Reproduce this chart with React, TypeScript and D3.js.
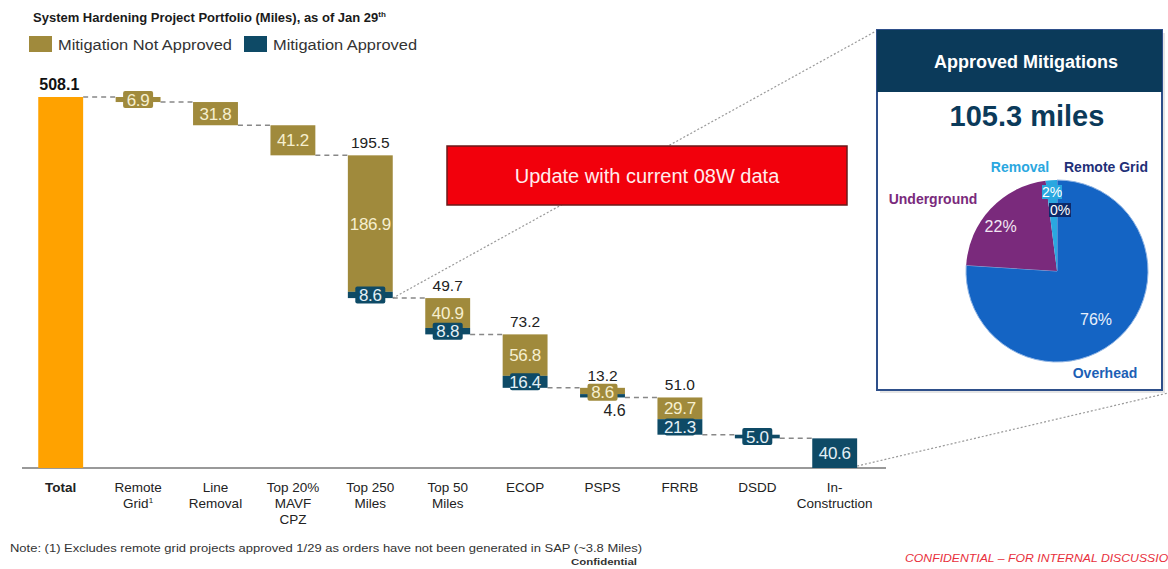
import React from 'react';
import * as d3 from 'd3';

const categories = ['Total', 'Remote Grid', 'Line Removal', 'Top 20% MAVF CPZ', 'Top 250 Miles', 'Top 50 Miles', 'ECOP', 'PSPS', 'FRRB', 'DSDD', 'In-Construction'];
const tickLines = [['Total'], ['Remote', 'Grid'], ['Line', 'Removal'], ['Top 20%', 'MAVF', 'CPZ'], ['Top 250', 'Miles'], ['Top 50', 'Miles'], ['ECOP'], ['PSPS'], ['FRRB'], ['DSDD'], ['In-', 'Construction']];
const totalMiles = 508.1;
const notApproved = [0, 6.9, 31.8, 41.2, 186.9, 40.9, 56.8, 8.6, 29.7, 0, 0];
const approved = [0, 0, 0, 0, 8.6, 8.8, 16.4, 4.6, 21.3, 5.0, 40.6];
const stepTotals = ['', '', '', '', '195.5', '49.7', '73.2', '13.2', '51.0', '', ''];

const pieNames = ['Overhead', 'Underground', 'Removal', 'Remote Grid'];
const pieValues = [76, 22, 2, 0];
const pieColors = ['#1464c4', '#7a2a7c', '#2aa7e0', '#0d2a6a'];

const GOLD = '#a08a3c';
const TEAL = '#0e4a66';
const ORANGE = '#ffa200';

const W = 1168;
const H = 569;

type Seg = { i: number; y0: number; y1: number; v: number; color: string; text: string };

const App = () => {
  const x = d3.scaleBand<string>().domain(categories).range([22, 22 + 77.4 * 11]).paddingInner(0.42).paddingOuter(0.21);
  const y = d3.scaleLinear().domain([0, totalMiles]).range([468, 97]);
  const bw = x.bandwidth();

  // waterfall segments
  const segs: Seg[] = [];
  const levels: number[] = [totalMiles];
  let running = totalMiles;
  for (let i = 1; i < categories.length; i++) {
    const top = running;
    if (notApproved[i] > 0) {
      segs.push({ i, y0: top, y1: top - notApproved[i], v: notApproved[i], color: GOLD, text: notApproved[i].toFixed(1) });
    }
    if (approved[i] > 0) {
      segs.push({ i, y0: top - notApproved[i], y1: top - notApproved[i] - approved[i], v: approved[i], color: TEAL, text: approved[i].toFixed(1) });
    }
    running = top - notApproved[i] - approved[i];
    levels.push(running);
  }

  const cx = (i: number) => (x(categories[i]) as number) + bw / 2;

  const pie = d3.pie<number>().sort(null).value((d) => d)(pieValues);
  const R = 91;
  const pcx = 1057;
  const pcy = 271;
  const arc = d3.arc<d3.PieArcDatum<number>>().innerRadius(0).outerRadius(R);
  const labelArc = d3.arc<d3.PieArcDatum<number>>().innerRadius(R * 0.82).outerRadius(R * 0.82);

  return (
    <svg width={W} height={H} style={{ position: 'absolute', left: 0, top: 0, background: '#fff' }} fontFamily="'Liberation Sans', Arial, sans-serif">
      {/* title + legend */}
      <text x={33} y={22} fontSize={13} fontWeight="bold" fill="#1a1a1a">
        System Hardening Project Portfolio (Miles), as of Jan 29<tspan fontSize={8} dy={-5}>th</tspan>
      </text>
      <rect x={29} y={36} width={23} height={16} fill={GOLD} />
      <text x={58} y={50} fontSize={15.5} fill="#333" textLength={174} lengthAdjust="spacingAndGlyphs">Mitigation Not Approved</text>
      <rect x={244} y={36} width={23} height={16} fill={TEAL} />
      <text x={273} y={50} fontSize={15.5} fill="#333" textLength={144} lengthAdjust="spacingAndGlyphs">Mitigation Approved</text>

      {/* connectors to panel */}
      <line x1={cx(4) + bw / 2} y1={y(levels[4])} x2={878} y2={30} stroke="#999" strokeWidth={1.2} strokeDasharray="2,2" />
      <line x1={cx(10) + bw / 2} y1={466} x2={1168} y2={393} stroke="#999" strokeWidth={1.2} strokeDasharray="2,2" />

      {/* axis baseline */}
      <line x1={22} x2={886} y1={468} y2={468} stroke="#999" strokeWidth={2} />

      {/* dashed step connectors */}
      {levels.slice(0, -1).map((lv, k) => (
        <line key={'c' + k} x1={cx(k) + bw / 2} x2={cx(k + 1) - bw / 2} y1={y(lv)} y2={y(lv)} stroke="#888" strokeWidth={1.5} strokeDasharray="5,4" />
      ))}

      {/* total bar */}
      <rect x={x(categories[0])} y={y(totalMiles)} width={bw} height={y(0) - y(totalMiles)} fill={ORANGE} />
      <text x={(x(categories[0]) as number) + 1} y={y(totalMiles) - 7} fontSize={16} fontWeight="bold" fill="#111">{totalMiles.toFixed(1)}</text>

      {/* segments */}
      {segs.map((s, k) => (
        <rect key={'s' + k} x={x(categories[s.i])} y={y(s.y0)} width={bw} height={y(s.y1) - y(s.y0)} fill={s.color} />
      ))}
      {segs.map((s, k) => {
        const my = (y(s.y0) + y(s.y1)) / 2;
        const small = y(s.y1) - y(s.y0) < 18;
        if (s.i === 7 && s.color === TEAL) {
          return (
            <text key={'l' + k} x={cx(s.i) + 12} y={y(s.y1) + 19} fontSize={16} fill="#222" textAnchor="middle">{s.text}</text>
          );
        }
        const bh = 17;
        const boxW = 30;
        let by = my - bh / 2;
        if (s.i === 7) by = y(s.y0) - 4;
        return (
          <g key={'l' + k}>
            {small && <rect x={cx(s.i) - boxW / 2} y={by} width={boxW} height={bh} fill={s.color} rx={2} />}
            <text x={cx(s.i)} y={by + 14.5} fontSize={17} fill={s.color === GOLD ? '#f6efcf' : '#e4f0f6'} textAnchor="middle" letterSpacing={-0.3}>{s.text}</text>
          </g>
        );
      })}

      {/* step totals */}
      {stepTotals.map((t, i) =>
        t ? (
          <text key={'t' + i} x={cx(i)} y={y(levels[i - 1]) - 7} fontSize={15.5} fill="#222" textAnchor="middle">{t}</text>
        ) : null
      )}

      {/* x labels */}
      {tickLines.map((lines, i) => (
        <text key={'x' + i} x={cx(i)} y={492} fontSize={13.5} fill="#222" textAnchor="middle" fontWeight={i === 0 ? 'bold' : 'normal'} fontFamily="'Liberation Sans Narrow', 'Liberation Sans', Arial">
          {lines.map((ln, j) => (
            <tspan key={j} x={cx(i)} dy={j === 0 ? 0 : 16}>
              {ln}
              {i === 1 && j === 1 ? <tspan fontSize={8} dy={-5}>1</tspan> : null}
            </tspan>
          ))}
        </text>
      ))}

      {/* red notice box */}
      <rect x={447} y={146} width={400} height={59} fill="#f2000c" stroke="#6a1a1a" strokeWidth={1.5} />
      <text x={647} y={183} fontSize={20} fill="#ffecec" textAnchor="middle">Update with current 08W data</text>

      {/* approved mitigations panel */}
      <rect x={880} y={33} width={285} height={360} fill="#ccc" opacity={0.5} />
      <rect x={877} y={30} width={285} height={360} fill="#fff" stroke="#2e4f8a" strokeWidth={2} />
      <rect x={877} y={30} width={285} height={62} fill="#0b3a5a" />
      <text x={1026} y={68} fontSize={18} fontWeight="bold" fill="#fff" textAnchor="middle">Approved Mitigations</text>
      <text x={1027} y={126} fontSize={29} fontWeight="bold" fill="#0b3a5a" textAnchor="middle">105.3 miles</text>

      <g transform={`translate(${pcx},${pcy})`}>
        {pie.map((p, k) => (
          <path key={'p' + k} d={arc(p) || ''} fill={pieColors[k]} stroke={k === 0 ? '#8fb4e4' : 'none'} strokeWidth={1} />
        ))}
        <text x={labelArc.centroid(pie[0])[0] - 12} y={labelArc.centroid(pie[0])[1]} fontSize={16} fill="#e8f0fb" textAnchor="middle">{pieValues[0]}%</text>
        <text x={labelArc.centroid(pie[1])[0] - 2} y={labelArc.centroid(pie[1])[1] + 12} fontSize={16} fill="#f2e6f2" textAnchor="middle">{pieValues[1]}%</text>
        <rect x={-15} y={-86} width={20} height={14} fill={pieColors[2]} />
        <text x={-5} y={-74} fontSize={14} fill="#fff" textAnchor="middle">{pieValues[2]}%</text>
        <rect x={-8} y={-68} width={22} height={14} fill={pieColors[3]} />
        <text x={3} y={-56} fontSize={14} fill="#fff" textAnchor="middle">{pieValues[3]}%</text>
      </g>
      <text x={1020} y={172} fontSize={14} fontWeight="bold" fill={pieColors[2]} textAnchor="middle">{pieNames[2]}</text>
      <text x={1106} y={172} fontSize={14} fontWeight="bold" fill="#1f2f78" textAnchor="middle">{pieNames[3]}</text>
      <text x={933} y={204} fontSize={14} fontWeight="bold" fill={pieColors[1]} textAnchor="middle">{pieNames[1]}</text>
      <text x={1105} y={378} fontSize={14} fontWeight="bold" fill="#1c5fb5" textAnchor="middle">{pieNames[0]}</text>

      {/* footer notes */}
      <text x={10} y={552} fontSize={10} fill="#333" textLength={632} lengthAdjust="spacingAndGlyphs">
        Note: (1) Excludes remote grid projects approved 1/29 as orders have not been generated in SAP (~3.8 Miles)
      </text>
      <text x={571} y={565} fontSize={9} fontWeight="bold" fill="#333" textLength={66} lengthAdjust="spacingAndGlyphs">Confidential</text>
      <text x={905} y={562} fontSize={11} fontStyle="italic" fill="#e8303c" textLength={272} lengthAdjust="spacingAndGlyphs">CONFIDENTIAL – FOR INTERNAL DISCUSSION</text>
    </svg>
  );
};

export default App;
